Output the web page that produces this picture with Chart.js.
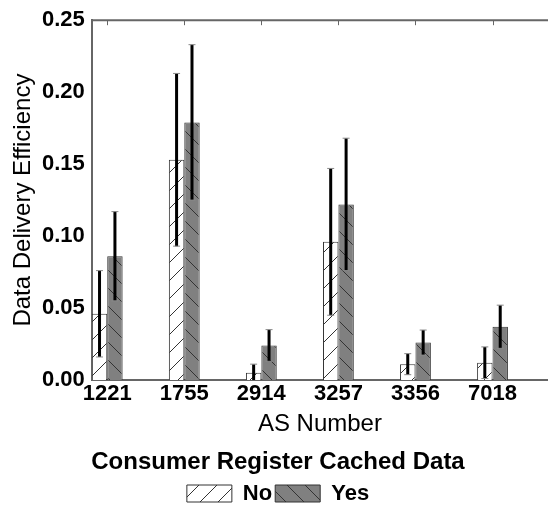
<!DOCTYPE html>
<html>
<head>
<meta charset="utf-8">
<script src="https://cdn.jsdelivr.net/npm/chart.js@4.4.1/dist/chart.umd.min.js"></script>
<style>
  html, body { margin: 0; padding: 0; background: #fff; }
  #wrap { width: 548px; height: 505px; }
</style>
</head>
<body>
<div id="wrap"><canvas id="chart"></canvas></div>
<script>
// data
const asNumbers = ['1221', '1755', '2914', '3257', '3356', '7018'];
const noValues = [0.046, 0.153, 0.005, 0.096, 0.011, 0.012];
const noErrors = [0.030, 0.060, 0.006, 0.051, 0.0073, 0.011];
const yesValues = [0.086, 0.179, 0.024, 0.122, 0.026, 0.037];
const yesErrors = [0.031, 0.054, 0.011, 0.046, 0.0087, 0.015];
const yTicks = [0, 0.05, 0.10, 0.15, 0.20, 0.25];

const FONT = "'Liberation Sans', Arial, sans-serif";

// hatch fill like the matplotlib '/' and '\' patterns
const makeHatch = (bg, dir) => {
  const s = 18;
  const c = document.createElement('canvas');
  c.width = s; c.height = s;
  const g = c.getContext('2d');
  g.fillStyle = bg;
  g.fillRect(0, 0, s, s);
  g.strokeStyle = '#333';
  g.lineWidth = 1;
  g.beginPath();
  if (dir === '/') {
    g.moveTo(-2, s + 2); g.lineTo(s + 2, -2);
  } else {
    g.moveTo(-2, -2); g.lineTo(s + 2, s + 2);
  }
  g.stroke();
  return g.createPattern(c, 'repeat');
};

const toPoints = (vals) => vals.map((v, i) => ({ x: i, y: v }));

// error bars + top spine with ticks
const extras = {
  id: 'extras',
  afterDatasetsDraw(chart) {
    const { ctx, chartArea: a, scales: { x, y } } = chart;
    const errs = [noErrors, yesErrors];
    ctx.save();
    ctx.beginPath();
    ctx.rect(a.left, a.top - 2, a.right - a.left, a.bottom - a.top + 2);
    ctx.clip();
    chart.data.datasets.forEach((ds, di) => {
      const meta = chart.getDatasetMeta(di);
      meta.data.forEach((bar, i) => {
        const v = ds.data[i].y;
        const e = errs[di][i];
        const px = bar.x;
        const top = y.getPixelForValue(v + e);
        const bot = y.getPixelForValue(v - e);
        ctx.strokeStyle = '#000';
        ctx.lineWidth = 3;
        ctx.beginPath();
        ctx.moveTo(px, top); ctx.lineTo(px, bot);
        ctx.stroke();
        ctx.strokeStyle = '#888';
        ctx.lineWidth = 1;
        ctx.beginPath();
        ctx.moveTo(px - 3.5, top); ctx.lineTo(px + 3.5, top);
        ctx.moveTo(px - 3.5, bot); ctx.lineTo(px + 3.5, bot);
        ctx.stroke();
      });
    });
    ctx.restore();

    ctx.save();
    ctx.strokeStyle = '#666';
    ctx.lineWidth = 2;
    ctx.beginPath();
    ctx.moveTo(a.left, a.top); ctx.lineTo(a.right, a.top);
    ctx.stroke();
    ctx.lineWidth = 1;
    ctx.beginPath();
    asNumbers.forEach((_, i) => {
      const px = Math.round(x.getPixelForValue(i)) + 0.5;
      ctx.moveTo(px, a.top); ctx.lineTo(px, a.top + 5);
    });
    ctx.stroke();
    ctx.restore();
  }
};

new Chart(document.getElementById('chart'), {
  type: 'bar',
  data: {
    datasets: [
      {
        label: 'No',
        data: toPoints(noValues),
        backgroundColor: makeHatch('#ffffff', '/'),
        borderColor: '#333',
        borderWidth: 1
      },
      {
        label: 'Yes',
        data: toPoints(yesValues),
        backgroundColor: makeHatch('#808080', '\\'),
        borderColor: '#333',
        borderWidth: 1
      }
    ]
  },
  options: {
    responsive: true,
    maintainAspectRatio: false,
    animation: false,
    categoryPercentage: 0.4,
    barPercentage: 1.0,
    layout: { padding: { left: 8, top: 9, right: 0, bottom: -9.5 } },
    plugins: {
      tooltip: { enabled: false },
      legend: {
        position: 'bottom',
        title: {
          display: true,
          text: 'Consumer Register Cached Data',
          color: '#000',
          font: { family: FONT, size: 24, weight: 'bold' },
          padding: { top: 2, bottom: 0 }
        },
        labels: {
          color: '#000',
          boxWidth: 45,
          boxHeight: 17,
          padding: 3,
          font: { family: FONT, size: 22, weight: 'bold' }
        }
      }
    },
    scales: {
      x: {
        type: 'linear',
        offset: false,
        min: -0.2,
        max: 5.72,
        grid: { display: false, drawTicks: false },
        border: { display: true, color: '#666', width: 2 },
        afterBuildTicks: (s) => { s.ticks = asNumbers.map((_, i) => ({ value: i })); },
        ticks: {
          color: '#000',
          padding: 1,
          autoSkip: false,
          maxRotation: 0,
          font: { family: FONT, size: 22, weight: 'bold' },
          callback: (v) => asNumbers[v] ?? ''
        },
        title: {
          display: true,
          text: 'AS Number',
          color: '#000',
          font: { family: FONT, size: 24 },
          padding: { top: 1.5, bottom: 10 }
        }
      },
      y: {
        min: 0,
        max: 0.25,
        grid: { display: false, drawTicks: false },
        border: { display: true, color: '#666', width: 2 },
        afterBuildTicks: (s) => { s.ticks = yTicks.map((v) => ({ value: v })); },
        ticks: {
          color: '#000',
          padding: 7,
          font: { family: FONT, size: 22, weight: 'bold' },
          callback: (v) => v.toFixed(2)
        },
        title: {
          display: true,
          text: 'Data Delivery Efficiency',
          color: '#000',
          font: { family: FONT, size: 24, lineHeight: 1 },
          padding: { top: 3, bottom: 0 }
        }
      }
    }
  },
  plugins: [extras]
});
</script>
</body>
</html>
